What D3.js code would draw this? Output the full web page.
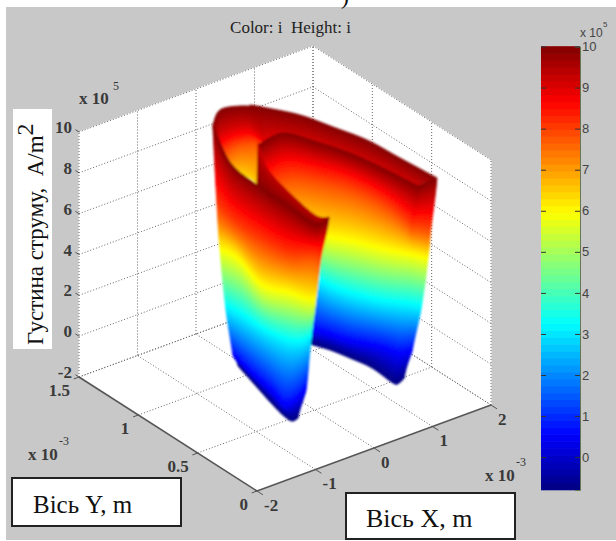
<!DOCTYPE html>
<html><head><meta charset="utf-8">
<script src="https://cdn.jsdelivr.net/npm/d3@7"></script>
<style>html,body{margin:0;background:#fff}svg{display:block}text{white-space:pre}</style>
</head><body><svg id="c" width="616" height="541"></svg>
<script>
// ---- chart values (x, y in 1e-3 m, z in 1e5 A/m2); columns across each sheet, rows by current density
const title = "Color: i  Height: i";
const zAxisLabel = "Густина струму,  A/m";
const xBoxLabel = "Вісь X, m", yBoxLabel = "Вісь Y, m";
const xTicks = [-2,-1,0,1,2], yTicks = [0,0.5,1,1.5], zTicks = [-2,0,2,4,6,8,10], barTicks = [0,1,2,3,4,5,6,7,8,9,10];
const barMin = -0.8, barMax = 10;

const wallLevels = [10,8,6,3,0.5,-0.8];
const frontX = [
 [-.426,-1.047,-1.052,-.999,-.819,-.501],
 [-.868,-1.151,-1.026,-.983,-.923,-.640],
 [-.965,-1.173,-1.207,-.988,-1.023,-.777],
 [-.979,-1.107,-1.038,-.918,-1.102,-.851],
 [-.997,-.864,-.944,-.766,-.888,-.848],
 [-.743,-.817,-.857,-.584,-.620,-.732]];
const frontY = [
 [1.147,.807,.780,.755,.785,.898],
 [.785,.613,.640,.619,.591,.687],
 [.510,.382,.350,.423,.355,.477],
 [.251,.179,.197,.272,.207,.339],
 [.006,.097,.090,.229,.211,.272],
 [.013,.044,.066,.243,.267,.280]];
const backX = [
 [-.276,-.186,-.010,.205,.333,.633],
 [.198,.254,.176,.423,.442,.669],
 [.416,.518,.347,.470,.552,.769],
 [.587,.708,.518,.574,.672,.850],
 [.692,.791,.719,.781,.874,.920],
 [.767,.732,.932,.980,.974,.893],
 [.767,.732,.932,.980,1.017,.958],
 [1.108,.887,1.037,1.119,1.176,1.098]];
const backY = [
 [.841,.826,.787,.810,.788,.893],
 [.865,.834,.668,.748,.757,.844],
 [.686,.693,.542,.603,.660,.750],
 [.492,.534,.440,.468,.533,.621],
 [.265,.313,.279,.317,.397,.471],
 [.007,.041,.139,.221,.278,.280],
 [.007,.041,.139,.221,.265,.262],
 [.016,-.043,.057,.156,.260,.288]];
const rimLevels = [10,9.2,8.6];
const rimX = [[.315,.051,.051],[.411,.302,.302],[.689,.592,.592],[.844,.781,.781],[.993,.930,.930],[1.045,1.017,1.017],[1.108,1.043,1.043]];
const rimY = [[1.201,1.003,1.003],[1.147,1.050,1.050],[.963,.916,.916],[.761,.730,.730],[.548,.517,.517],[.297,.283,.283],[.016,.143,.143]];
const pocketLevels = [10,9,7.6,6.4];
const pocketX = [[-.426,-.301,-.025,.262],[-.095,-.036,.253,.323],[.189,.249,.439,.292],[.411,.248,.526,.249]];
const pocketY = [[1.147,1.183,1.244,1.300],[1.251,1.213,1.271,1.204],[1.223,1.185,1.244,1.121],[1.147,1.067,1.220,1.067]];
const lipLevels = [9.2,10];
const lipX = [[.035,-.965],[-.292,-.989],[-.448,-.979],[-.568,-.997],[-.467,-.743]];
const lipY = [[.995,.510],[.757,.372],[.513,.251],[.217,.006],[.149,.013]];
// jet colormap
const jetStops = [0,.125,.375,.625,.875,1];
const jetColors = ["#000080","#0000ff","#00ffff","#ffff00","#ff0000","#800000"];

// ---- scales: oblique projection of the 3D box
const W=616,H=541;
const svg=d3.select("#c");
const serif="'Liberation Serif','Times New Roman',serif", sans="'Liberation Sans',Arial,sans-serif";
const sxX=d3.scaleLinear().domain([-2,2]).range([0,234]);
const sxY=d3.scaleLinear().domain([0,1.5]).range([0,-178]);
const syX=d3.scaleLinear().domain([-2,2]).range([0,-86]);
const syY=d3.scaleLinear().domain([0,1.5]).range([0,-114]);
const syZ=d3.scaleLinear().domain([-2,10]).range([0,-245]);
const proj=(x,y,z)=>[257+sxX(x)+sxY(y),491+syX(x)+syY(y)+syZ(z)];
const jetT=d3.scaleLinear().domain([barMin,barMax]).range([0,1]);
const jet=d3.scaleLinear().domain(jetStops).range(jetColors).interpolate(d3.interpolateRgb).clamp(true);
const colorOf=z=>jet(jetT(z));

svg.append("rect").attr("x",6).attr("y",7).attr("width",W-6).attr("height",533).attr("fill","#c8c8c8");
svg.append("text").attr("x",341).attr("y",4).attr("font-family",serif).attr("font-size",24).attr("fill","#111").text(")");

// ---- walls and floor
const planes=[
 [[-2,1.5,-2],[-2,1.5,10],[2,1.5,10],[2,1.5,-2]],
 [[2,0,-2],[2,0,10],[2,1.5,10],[2,1.5,-2]],
 [[-2,0,-2],[2,0,-2],[2,1.5,-2],[-2,1.5,-2]]];
svg.append("g").selectAll("path").data(planes).join("path")
 .attr("d",p=>d3.line()(p.map(q=>proj(...q)))+"Z").attr("fill","#fff").attr("stroke","#fff");
const gridSegs=[];
xTicks.forEach(x=>{gridSegs.push([[x,1.5,-2],[x,1.5,10]],[[x,0,-2],[x,1.5,-2]]);});
yTicks.forEach(y=>{gridSegs.push([[2,y,-2],[2,y,10]],[[-2,y,-2],[2,y,-2]]);});
zTicks.forEach(z=>{gridSegs.push([[-2,1.5,z],[2,1.5,z]],[[2,1.5,z],[2,0,z]]);});
const axisSegs=[[[-2,0,-2],[2,0,-2]],[[-2,0,-2],[-2,1.5,-2]]];
svg.append("g").selectAll("path").data(gridSegs.filter(s=>!axisSegs.some(a=>JSON.stringify(a)===JSON.stringify(s))))
 .join("path").attr("d",s=>d3.line()(s.map(q=>proj(...q))))
 .attr("fill","none").attr("stroke","#666").attr("stroke-width",1).attr("stroke-dasharray","1 2");
svg.append("g").selectAll("path").data(axisSegs).join("path").attr("d",s=>d3.line()(s.map(q=>proj(...q))))
 .attr("fill","none").attr("stroke","#555").attr("stroke-width",1.6);
const tickSegs=[
 ...xTicks.map(x=>[[x,0,-2],[x,-0.05,-2]]),
 ...yTicks.map(y=>[[-2,y,-2],[-2.09,y,-2]]),
 ...zTicks.map(z=>[[-2,1.5,z],[-2,1.53,z]])];
svg.append("g").selectAll("path").data(tickSegs).join("path").attr("d",s=>d3.line()(s.map(q=>proj(...q))))
 .attr("fill","none").attr("stroke","#555").attr("stroke-width",1);

// ---- surface
const defs=svg.append("defs");
defs.append("filter").attr("id","soft").attr("x","-5%").attr("y","-5%").attr("width","110%").attr("height","110%")
 .append("feGaussianBlur").attr("stdDeviation",0.8);
function cr(v,t){
 const n=v.length; if(n===1) return v[0];
 const f=Math.min(t*(n-1),n-1-1e-9), i=Math.floor(f), s=f-i;
 const p0=v[Math.max(i-1,0)],p1=v[i],p2=v[i+1],p3=v[Math.min(i+2,n-1)];
 return 0.5*((2*p1)+(-p0+p2)*s+(2*p0-5*p1+4*p2-p3)*s*s+(-p0+3*p1-3*p2+p3)*s*s*s);
}
function sheet(X,Y,levels,nu,nv){
 const rows=levels.length, zAt=d3.scaleLinear().domain(d3.range(rows).map(i=>i/(rows-1))).range(levels);
 const vert=[];
 for(let i=0;i<=nu;i++){
  const u=i/nu, xr=d3.range(rows).map(r=>cr(X.map(c=>c[r]),u)), yr=d3.range(rows).map(r=>cr(Y.map(c=>c[r]),u)), col=[];
  for(let j=0;j<=nv;j++){const v=j/nv, z=zAt(v); col.push({p:proj(cr(xr,v),cr(yr,v),z),z});}
  vert.push(col);
 }
 const cells=[];
 for(let i=0;i<nu;i++)for(let j=0;j<nv;j++){
  const a=vert[i][j],b=vert[i+1][j],c=vert[i+1][j+1],d=vert[i][j+1];
  cells.push({pts:[a.p,b.p,c.p,d.p],z:(a.z+b.z+c.z+d.z)/4});
 }
 return cells;
}
const surface=svg.append("g").attr("filter","url(#soft)");
[[rimX,rimY,rimLevels,50,12],[pocketX,pocketY,pocketLevels,24,30],[backX,backY,wallLevels,56,80],[lipX,lipY,lipLevels,36,8],[frontX,frontY,wallLevels,40,80]]
.forEach(([X,Y,L,nu,nv])=>{
 surface.append("g").selectAll("path").data(sheet(X,Y,L,nu,nv)).join("path")
  .attr("d",c=>d3.line()(c.pts)+"Z").attr("fill",c=>colorOf(c.z)).attr("stroke",c=>colorOf(c.z)).attr("stroke-width",0.9);
});

// ---- 3D tick labels
const tickFont=t=>t.attr("font-family",serif).attr("font-size",17).attr("font-weight","bold").attr("fill","#3a3a3a");
tickFont(svg.append("g").selectAll("text").data(zTicks).join("text")
 .attr("x",72).attr("y",z=>proj(-2,1.5,z)[1]+1).attr("text-anchor","end").text(d=>d));
tickFont(svg.append("g").selectAll("text").data(yTicks).join("text")
 .attr("x",y=>proj(-2,y,-2)[0]-9).attr("y",y=>proj(-2,y,-2)[1]+19).attr("text-anchor","end").text(d=>d));
tickFont(svg.append("g").selectAll("text").data(xTicks).join("text")
 .attr("x",x=>proj(x,0,-2)[0]+7).attr("y",x=>proj(x,0,-2)[1]+19.5).text(d=>d));
const mult=[["x 10","5",79,104,113,90],["x 10","-3",28,460,59,445],["x 10","-3",485,481,516,466]];
mult.forEach(([a,b,x,y,sx,sy])=>{
 tickFont(svg.append("text").attr("x",x).attr("y",y).text(a));
 svg.append("text").attr("x",sx).attr("y",sy).attr("font-family",serif).attr("font-size",12).attr("fill","#333").text(b);
});
svg.append("text").attr("x",290.5).attr("y",33).attr("text-anchor","middle").attr("font-family",serif).attr("font-size",17).attr("fill","#222").text(title);

// ---- colour bar
const barY=d3.scaleLinear().domain([barMin,barMax]).range([490,46.5]);
const bands=d3.range(64).map(i=>barMin+(barMax-barMin)*(i+0.5)/64);
const bandH=Math.abs(barY(barMin)-barY(barMin+(barMax-barMin)/64));
svg.append("g").selectAll("rect").data(bands).join("rect")
 .attr("x",541).attr("width",39).attr("y",d=>barY(d)-bandH/2-0.3).attr("height",bandH+0.6).attr("fill",colorOf);
const barR=svg.append("g").attr("transform","translate(580,0)")
 .call(d3.axisRight(barY).tickValues(barTicks).tickFormat(d3.format("d")).tickSize(-5).tickPadding(7));
barR.select(".domain").attr("stroke","#667755");
barR.selectAll("line").attr("stroke","#333");
barR.selectAll("text").attr("x",2).attr("font-family",sans).attr("font-size",13).attr("fill","#444");
const barL=svg.append("g").attr("transform","translate(541,0)")
 .call(d3.axisLeft(barY).tickValues(barTicks).tickFormat("").tickSize(-5));
barL.select(".domain").remove(); barL.selectAll("line").attr("stroke","#333");
svg.append("text").attr("x",580).attr("y",37).attr("font-family",sans).attr("font-size",12).attr("fill","#444").text("x 10");
svg.append("text").attr("x",603).attr("y",27).attr("font-family",sans).attr("font-size",8).attr("fill","#444").text("5");

// ---- boxed labels
svg.append("rect").attr("x",13).attr("y",109).attr("width",39).attr("height",240).attr("fill","#fff");
const zl=svg.append("text").attr("transform","translate(43,345) rotate(-90)").attr("font-family",serif).attr("font-size",23).attr("fill","#111");
zl.append("tspan").text(zAxisLabel);
zl.append("tspan").attr("dy",-10).attr("font-size",24).text("2");
[[12,478,169,48,yBoxLabel,33,513,25],[346,493,169,46,xBoxLabel,366,527,26]].forEach(([x,y,w,h,s,tx,ty,fs])=>{
 svg.append("rect").attr("x",x).attr("y",y).attr("width",w).attr("height",h).attr("fill","#fff").attr("stroke","#222").attr("stroke-width",2);
 svg.append("text").attr("x",tx).attr("y",ty).attr("font-family",serif).attr("font-size",fs).attr("fill","#111").text(s);
});
</script></body></html>
